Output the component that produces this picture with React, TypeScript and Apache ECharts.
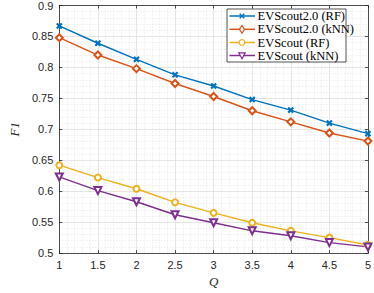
import React, { useEffect, useRef } from "react";
import * as echarts from "echarts";

const qValues = [1, 1.5, 2, 2.5, 3, 3.5, 4, 4.5, 5];
const evs2RF = [0.867, 0.839, 0.813, 0.788, 0.770, 0.748, 0.731, 0.710, 0.693];
const evs2KNN = [0.848, 0.820, 0.798, 0.774, 0.753, 0.730, 0.712, 0.694, 0.681];
const evsRF = [0.642, 0.622, 0.604, 0.582, 0.565, 0.549, 0.536, 0.525, 0.513];
const evsKNN = [0.623, 0.601, 0.583, 0.562, 0.549, 0.536, 0.528, 0.517, 0.510];
const seriesNames = ["EVScout2.0 (RF)", "EVScout2.0 (kNN)", "EVScout (RF)", "EVScout (kNN)"];
const colors = ["#0072BD", "#D95319", "#EDB120", "#7E2F8E"];

const crossPath =
  "path://M0,1.5 L1.5,0 L5,3.5 L8.5,0 L10,1.5 L6.5,5 L10,8.5 L8.5,10 L5,6.5 L1.5,10 L0,8.5 L3.5,5 Z";

export default function App() {
  const ref = useRef<HTMLDivElement>(null);
  useEffect(() => {
    if (!ref.current) return;
    const chart = echarts.init(ref.current, null, { renderer: "svg" });
    const axisColor = "#262626";
    const tickFont = { fontFamily: "Liberation Sans, Arial, sans-serif", fontSize: 11, color: axisColor };
    const mk = (vals: number[]) => qValues.map((q, i) => [q, vals[i]]);
    const symbols = [crossPath, "emptyDiamond", "emptyCircle", "emptyTriangle"];
    const sizes = [5, 7, 6, 7];
    const datas = [evs2RF, evs2KNN, evsRF, evsKNN];

    // legend drawn with graphic elements
    const lx = 227, ly = 9, lw = 119, lh = 53;
    const rowY = [16, 29.3, 42.5, 55.5];
    const lineX0 = 229.5, lineX1 = 255, mX = 242, textX = 257.5;
    const legendEls: any[] = [
      {
        type: "rect",
        shape: { x: lx, y: ly, width: lw, height: lh },
        style: { fill: "#fff", stroke: axisColor, lineWidth: 0.8 },
        z: 100,
      },
    ];
    seriesNames.forEach((name, i) => {
      const y = rowY[i];
      const c = colors[i];
      legendEls.push({
        type: "line",
        shape: { x1: lineX0, y1: y, x2: lineX1, y2: y },
        style: { stroke: c, lineWidth: 1.5 },
        z: 101,
      });
      if (i === 0) {
        legendEls.push(
          { type: "line", shape: { x1: mX - 2.3, y1: y - 2.3, x2: mX + 2.3, y2: y + 2.3 }, style: { stroke: c, lineWidth: 1.3 }, z: 102 },
          { type: "line", shape: { x1: mX - 2.3, y1: y + 2.3, x2: mX + 2.3, y2: y - 2.3 }, style: { stroke: c, lineWidth: 1.3 }, z: 102 }
        );
      } else if (i === 1) {
        legendEls.push({
          type: "polygon",
          shape: { points: [[mX, y - 3.8], [mX + 2.6, y], [mX, y + 3.8], [mX - 2.6, y]] },
          style: { fill: "#fff", stroke: c, lineWidth: 1.2 },
          z: 102,
        });
      } else if (i === 2) {
        legendEls.push({
          type: "circle",
          shape: { cx: mX, cy: y, r: 2.8 },
          style: { fill: "#fff", stroke: c, lineWidth: 1.2 },
          z: 102,
        });
      } else {
        legendEls.push({
          type: "polygon",
          shape: { points: [[mX - 3.2, y - 2.6], [mX + 3.2, y - 2.6], [mX, y + 3.2]] },
          style: { fill: "#fff", stroke: c, lineWidth: 1.2 },
          z: 102,
        });
      }
      legendEls.push({
        type: "text",
        x: textX,
        y: y,
        style: {
          text: name,
          fill: "#000",
          font: "12.5px 'Liberation Serif', 'Times New Roman', serif",
          textVerticalAlign: "middle",
          verticalAlign: "middle",
        },
        z: 102,
      });
    });

    chart.setOption({
      animation: false,
      backgroundColor: "#fff",
      grid: { left: 41, top: 4, right: 5, bottom: 30, containLabel: false },
      graphic: legendEls,
      xAxis: [
        {
          type: "value",
          min: 1,
          max: 5,
          interval: 0.5,
          name: "Q",
          nameLocation: "middle",
          nameGap: 19,
          nameTextStyle: { fontFamily: "Liberation Serif, serif", fontStyle: "italic", fontSize: 13, color: axisColor },
          axisLine: { show: true, lineStyle: { color: axisColor, width: 0.8 } },
          axisTick: { show: true, inside: true, length: 3, lineStyle: { color: axisColor, width: 0.8 } },
          axisLabel: { ...tickFont, margin: 6, formatter: (v: number) => String(v) },
          splitLine: { show: true, lineStyle: { color: "#e0e0e0", width: 0.8 } },
          minorTick: { show: false, splitNumber: 5 },
          minorSplitLine: { show: true, lineStyle: { color: "#d8d8d8", width: 0.6, type: [1, 2] } },
        },
        {
          type: "value",
          min: 1,
          max: 5,
          interval: 0.5,
          position: "top",
          axisLine: { show: true, lineStyle: { color: axisColor, width: 0.8 } },
          axisTick: { show: true, inside: true, length: 3, lineStyle: { color: axisColor, width: 0.8 } },
          axisLabel: { show: false },
          splitLine: { show: false },
        },
      ],
      yAxis: [
        {
          type: "value",
          min: 0.5,
          max: 0.9,
          interval: 0.05,
          name: "F1",
          nameLocation: "middle",
          nameGap: 33,
          nameRotate: 90,
          nameTextStyle: { fontFamily: "Liberation Serif, serif", fontStyle: "italic", fontSize: 13, color: axisColor },
          axisLine: { show: true, lineStyle: { color: axisColor, width: 0.8 } },
          axisTick: { show: true, inside: true, length: 3, lineStyle: { color: axisColor, width: 0.8 } },
          axisLabel: { ...tickFont, margin: 6, formatter: (v: number) => String(Math.round(v * 100) / 100) },
          splitLine: { show: true, lineStyle: { color: "#e0e0e0", width: 0.8 } },
          minorTick: { show: false, splitNumber: 5 },
          minorSplitLine: { show: true, lineStyle: { color: "#d8d8d8", width: 0.6, type: [1, 2] } },
        },
        {
          type: "value",
          min: 0.5,
          max: 0.9,
          interval: 0.05,
          position: "right",
          axisLine: { show: true, lineStyle: { color: axisColor, width: 0.8 } },
          axisTick: { show: true, inside: true, length: 3, lineStyle: { color: axisColor, width: 0.8 } },
          axisLabel: { show: false },
          splitLine: { show: false },
        },
      ],
      series: seriesNames.map((name, i) => ({
        name,
        type: "line",
        xAxisIndex: 0,
        yAxisIndex: 0,
        data: mk(datas[i]),
        symbol: symbols[i],
        symbolSize: sizes[i],
        symbolRotate: i === 3 ? 180 : 0,
        showAllSymbol: true,
        lineStyle: { color: colors[i], width: 1.4 },
        itemStyle: { color: colors[i], borderColor: colors[i], borderWidth: 1.1 },
        emphasis: { disabled: true },
      })),
    });
    return () => chart.dispose();
  }, []);
  return <div ref={ref} style={{ width: 374, height: 293, position: "absolute", left: 0, top: 0 }} />;
}
